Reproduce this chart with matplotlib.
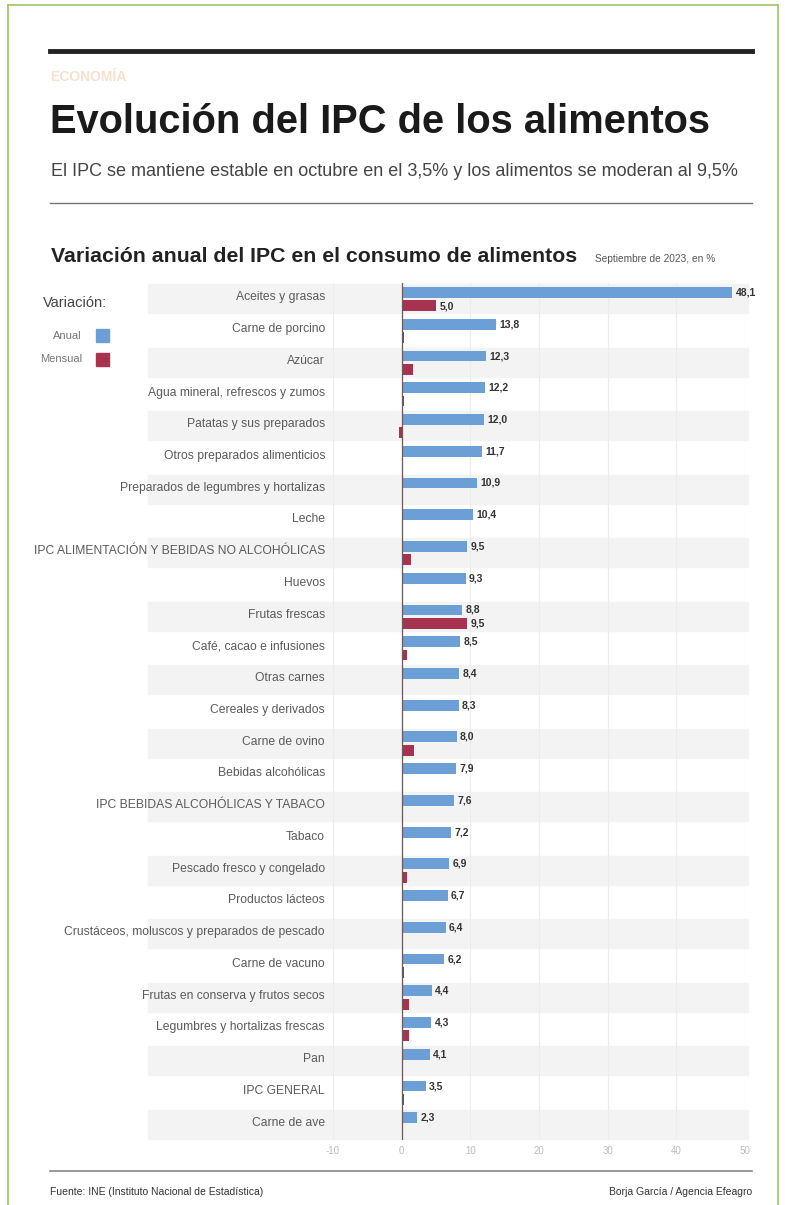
import numpy as np
import matplotlib
matplotlib.use("Agg")
import matplotlib.pyplot as plt
from matplotlib import transforms
from matplotlib.patches import Rectangle
from matplotlib.lines import Line2D

plt.rcParams['font.family'] = ['Liberation Sans', 'DejaVu Sans']

categorias = [
    "Aceites y grasas", "Carne de porcino", "Azúcar",
    "Agua mineral, refrescos y zumos", "Patatas y sus preparados",
    "Otros preparados alimenticios", "Preparados de legumbres y hortalizas",
    "Leche", "IPC ALIMENTACIÓN Y BEBIDAS NO ALCOHÓLICAS", "Huevos",
    "Frutas frescas", "Café, cacao e infusiones", "Otras carnes",
    "Cereales y derivados", "Carne de ovino", "Bebidas alcohólicas",
    "IPC BEBIDAS ALCOHÓLICAS Y TABACO", "Tabaco", "Pescado fresco y congelado",
    "Productos lácteos", "Crustáceos, moluscos y preparados de pescado",
    "Carne de vacuno", "Frutas en conserva y frutos secos",
    "Legumbres y hortalizas frescas", "Pan", "IPC GENERAL", "Carne de ave",
]
anual = [48.1, 13.8, 12.3, 12.2, 12.0, 11.7, 10.9, 10.4, 9.5, 9.3, 8.8, 8.5, 8.4,
         8.3, 8.0, 7.9, 7.6, 7.2, 6.9, 6.7, 6.4, 6.2, 4.4, 4.3, 4.1, 3.5, 2.3]
mensual = [5.0, 0.3, 1.7, 0.4, -0.4, 0.1, 0.1, 0.2, 1.3, 0.0, 9.5, 0.8, 0.1,
           0.2, 1.8, 0.1, 0.1, 0.1, 0.8, 0.2, 0.2, 0.4, 1.1, 1.1, 0.2, 0.3, 0.2]
xticks = [-10, 0, 10, 20, 30, 40, 50]

azul = "#6b9fd6"
granate = "#a83350"
W, H = 785, 1205

fig = plt.figure(figsize=(W / 100, H / 100), dpi=100)

def fx(px):
    return px / W

def fy(py):
    return 1 - py / H

# marco verde
for xs, ys in [([8, 8], [5, H]), ([8, 778], [5, 5]), ([778, 778], [5, H])]:
    fig.add_artist(Line2D([fx(x) for x in xs], [fy(y) for y in ys], color="#9dc46b", lw=1.2))

# cabecera
fig.add_artist(Line2D([fx(50), fx(752)], [fy(51), fy(51)], color="#222222", lw=3.5))
fig.text(fx(50), fy(77), "ECONOMÍA", fontsize=10, fontweight="bold", color="#f7e0cc", va="center")
fig.text(fx(50), fy(122), "Evolución del IPC de los alimentos", fontsize=28.7,
         fontweight="bold", color="#1a1a1a", va="center")
fig.text(fx(51), fy(171), "El IPC se mantiene estable en octubre en el 3,5% y los alimentos se moderan al 9,5%",
         fontsize=13, color="#444444", va="center")
fig.add_artist(Line2D([fx(50), fx(752)], [fy(203), fy(203)], color="#777777", lw=1))

fig.text(fx(51), fy(257), "Variación anual del IPC en el consumo de alimentos", fontsize=15.3,
         fontweight="bold", color="#222222", va="center")
fig.text(fx(595), fy(259), "Septiembre de 2023, en %", fontsize=7.3, color="#555555", va="center")

# leyenda
fig.text(fx(43), fy(303), "Variación:", fontsize=10.5, color="#444444", va="center")
fig.text(fx(82), fy(336), "Anual", fontsize=8, color="#777777", va="center", ha="right")
fig.text(fx(82), fy(359), "Mensual", fontsize=8, color="#777777", va="center", ha="right")
fig.add_artist(Rectangle((fx(96), fy(342)), fx(13), 13 / H, color=azul, transform=fig.transFigure))
fig.add_artist(Rectangle((fx(96), fy(366)), fx(13), 13 / H, color=granate, transform=fig.transFigure))

# gráfico
ax = fig.add_axes([fx(333), fy(1140), fx(412), (1140 - 283) / H])
ax.set_facecolor("none")
n = len(categorias)
y = np.arange(n)
ax.set_xlim(-10, 50)
ax.set_ylim(n - 0.5, -0.5)

trans = transforms.blended_transform_factory(fig.transFigure, ax.transData)
for i in range(0, n, 2):
    ax.add_patch(Rectangle((fx(148), i - 0.46), fx(600), 0.92, transform=trans,
                           color="#f3f3f3", zorder=0, clip_on=False))

for t in xticks:
    ax.axvline(t, color="#ececec", lw=0.8, zorder=1)

ax.barh(y - 0.2, anual, height=0.34, color=azul, zorder=3)
ax.barh(y + 0.22, mensual, height=0.34, color=granate, zorder=3)
ax.axvline(0, color="#6b5a5a", lw=0.9, zorder=4)

def fmt(v):
    return f"{v:.1f}".replace(".", ",")

for i in range(n):
    ax.text(anual[i] + 0.5, i - 0.2, fmt(anual[i]), fontsize=7.5, fontweight="bold",
            color="#333333", va="center", ha="left", zorder=5)
    if abs(mensual[i]) >= 3:
        ax.text(mensual[i] + 0.5, i + 0.24, fmt(mensual[i]), fontsize=7.5, fontweight="bold",
                color="#333333", va="center", ha="left", zorder=5)
    ax.text(fx(325), i - 0.05, categorias[i], transform=trans, fontsize=8.7,
            color="#5a5a5a", va="center", ha="right")

ax.set_yticks([])
ax.set_xticks(xticks)
ax.set_xticklabels([str(t) for t in xticks], fontsize=7, color="#bbbbbb")
ax.tick_params(axis="x", length=0, pad=4)
for s in ax.spines.values():
    s.set_visible(False)

# pie
fig.add_artist(Line2D([fx(50), fx(752)], [fy(1171), fy(1171)], color="#888888", lw=1.2))
fig.text(fx(50), fy(1192), "Fuente: INE (Instituto Nacional de Estadística)", fontsize=7.5,
         color="#333333", va="center")
fig.text(fx(752), fy(1192), "Borja García / Agencia Efeagro", fontsize=7.5,
         color="#333333", va="center", ha="right")

fig.savefig("out.png", dpi=100, facecolor="white")
